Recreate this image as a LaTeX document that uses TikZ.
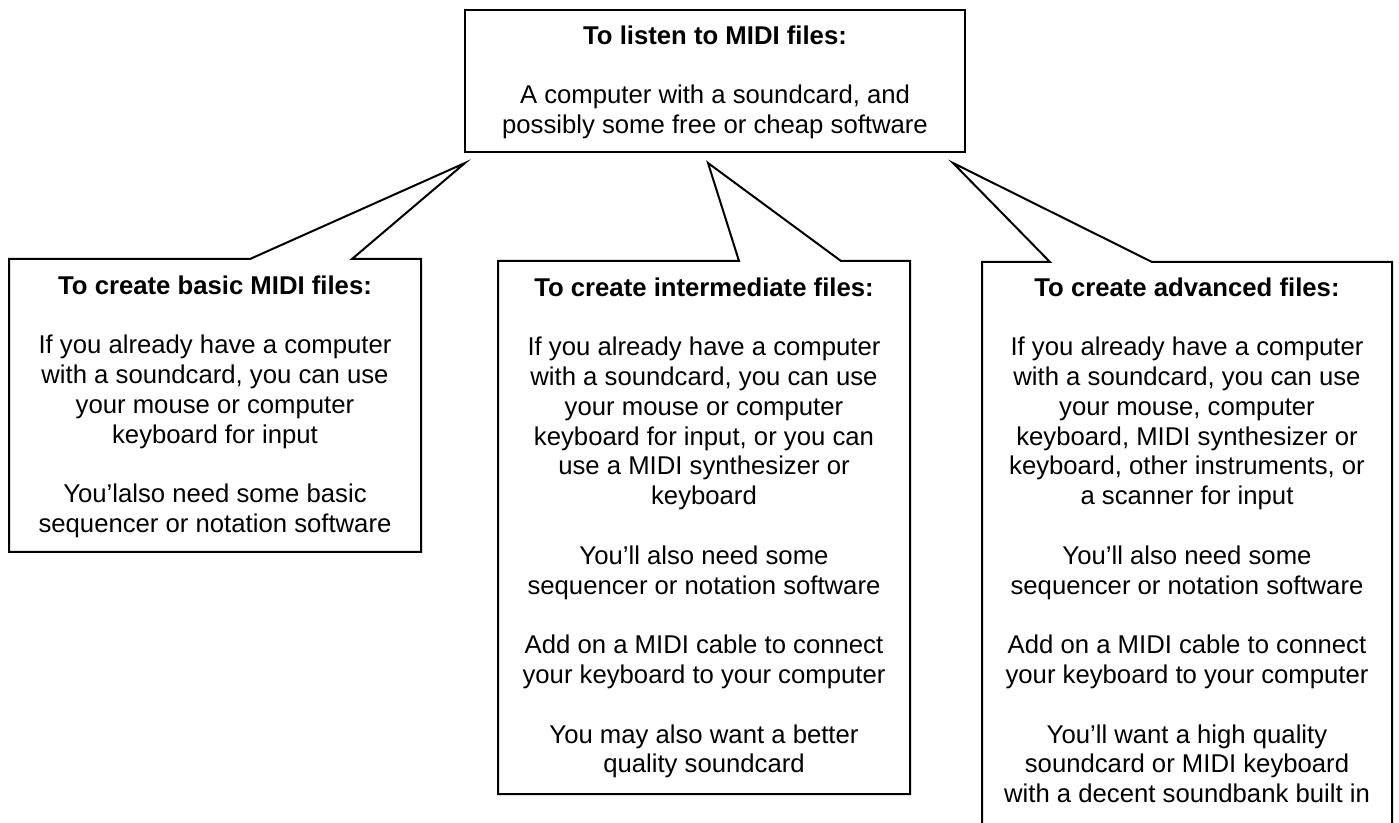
\documentclass[tikz,border=0pt]{standalone}
\usepackage{fontspec}
\setmainfont{Liberation Sans}
\begin{document}
\begin{tikzpicture}[x=0.5pt,y=-0.5pt,
  boxline/.style={draw=black,line width=1pt,fill=white,line join=miter},
  txt/.style={anchor=north,inner sep=0pt,align=center,font=\fontsize{12.85}{14.9}\selectfont}]
\useasboundingbox (0,0) rectangle (1399,823);
\clip (0,0) rectangle (1399,823);
% top box
\draw[boxline] (465,10) rectangle (965,152);
\node[txt] (toptxt) at (715,25) {\textbf{To listen to MIDI files:}\\[14.9pt]
A computer with a soundcard, and\\
possibly some free or cheap software};
% pointer tips
\coordinate (tipL) at (465,163);
\coordinate (tipM) at (708,163);
\coordinate (tipR) at (953,163);
% left callout
\draw[boxline] (9,259) -- (250,259) -- (tipL) -- (352,259) -- (421,259) -- (421,552) -- (9,552) -- cycle;
\node[txt] (lefttxt) at (215,275) {\textbf{To create basic MIDI files:}\\[14.9pt]
If you already have a computer\\
with a soundcard, you can use\\
your mouse or computer\\
keyboard for input\\[14.9pt]
You’lalso need some basic\\
sequencer or notation software};
% middle callout
\draw[boxline] (498,261) -- (739,261) -- (tipM) -- (841,261) -- (910,261) -- (910,794) -- (498,794) -- cycle;
\node[txt] (midtxt) at (704,277) {\textbf{To create intermediate files:}\\[14.9pt]
If you already have a computer\\
with a soundcard, you can use\\
your mouse or computer\\
keyboard for input, or you can\\
use a MIDI synthesizer or\\
keyboard\\[14.9pt]
You’ll also need some\\
sequencer or notation software\\[14.9pt]
Add on a MIDI cable to connect\\
your keyboard to your computer\\[14.9pt]
You may also want a better\\
quality soundcard};
% right callout
\draw[boxline] (982,262) -- (1050,262) -- (tipR) -- (1152,262) -- (1392,262) -- (1392,850) -- (982,850) -- cycle;
\node[txt] (righttxt) at (1187,277) {\textbf{To create advanced files:}\\[14.9pt]
If you already have a computer\\
with a soundcard, you can use\\
your mouse, computer\\
keyboard, MIDI synthesizer or\\
keyboard, other instruments, or\\
a scanner for input\\[14.9pt]
You’ll also need some\\
sequencer or notation software\\[14.9pt]
Add on a MIDI cable to connect\\
your keyboard to your computer\\[14.9pt]
You’ll want a high quality\\
soundcard or MIDI keyboard\\
with a decent soundbank built in};
\end{tikzpicture}
\end{document}
